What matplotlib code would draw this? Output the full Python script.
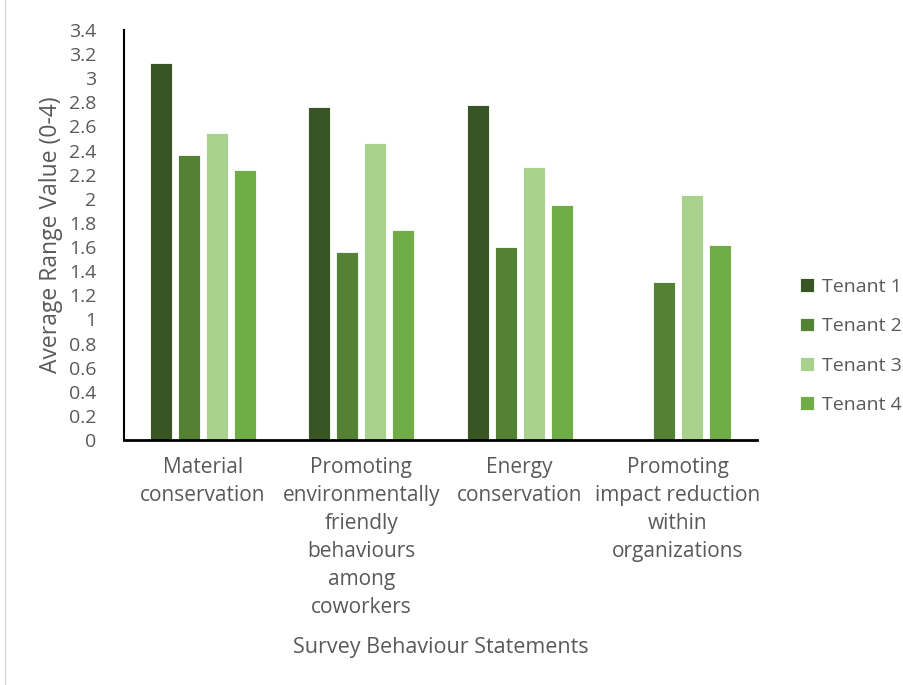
import numpy as np
import matplotlib.pyplot as plt
from matplotlib.patches import Rectangle

plt.rcParams['font.family'] = ['Open Sans', 'DejaVu Sans']

# Datos
categories = ["Material\nconservation",
              "Promoting\nenvironmentally\nfriendly\nbehaviours\namong\ncoworkers",
              "Energy\nconservation",
              "Promoting\nimpact reduction\nwithin\norganizations"]
series_names = ["Tenant 1", "Tenant 2", "Tenant 3", "Tenant 4"]
tenant1 = [3.13, 2.76, 2.78, 0]
tenant2 = [2.36, 1.56, 1.60, 1.31]
tenant3 = [2.55, 2.46, 2.26, 2.03]
tenant4 = [2.24, 1.74, 1.95, 1.62]
colors = ["#375623", "#548235", "#A9D18E", "#70AD47"]

text_color = "#595959"

fig = plt.figure(figsize=(9.04, 6.85), dpi=100)
ax = fig.add_axes([124 / 904, 1 - 440 / 685, (757 - 124) / 904, (440 - 30) / 685])

# Borde exterior del grafico
fig.patches.append(Rectangle((5 / 904, -0.01), 1.0, 1.02, transform=fig.transFigure,
                             fill=False, edgecolor="#d9d9d9", linewidth=1))

x = np.arange(len(categories))
width = 0.14
step = 0.177
for i, (vals, name) in enumerate(zip([tenant1, tenant2, tenant3, tenant4], series_names)):
    ax.bar(x + (i - 1.5) * step, vals, width, color=colors[i], label=name,
           edgecolor="white", linewidth=0.6)

ax.set_xlim(-0.5, len(categories) - 0.5)
ax.set_ylim(0, 3.4)
ax.set_yticks(np.arange(0, 3.41, 0.2))
ax.set_yticklabels([f"{v:g}" for v in np.round(np.arange(0, 3.41, 0.2), 1)])
ax.set_xticks(x)
ax.set_xticklabels(categories, linespacing=1.44, fontsize=15)

for s in ["top", "right"]:
    ax.spines[s].set_visible(False)
ax.spines["left"].set_linewidth(1.5)
ax.spines["bottom"].set_linewidth(2)
ax.tick_params(axis="both", length=0, colors=text_color)
ax.tick_params(axis="y", labelsize=14, pad=20)
ax.tick_params(axis="x", pad=12)

ax.set_ylabel("Average Range Value (0-4)", fontsize=16.5, color=text_color, labelpad=4)
ax.set_xlabel("Survey Behaviour Statements", fontsize=15.5, color=text_color, labelpad=14)

leg = fig.legend(loc="center left", bbox_to_anchor=(783 / 904, 1 - 346 / 685),
                 frameon=False, fontsize=14, handlelength=0.7, handleheight=0.7,
                 handletextpad=0.4, labelspacing=1.1)
for t in leg.get_texts():
    t.set_color(text_color)

fig.savefig("out.png", dpi=100)
